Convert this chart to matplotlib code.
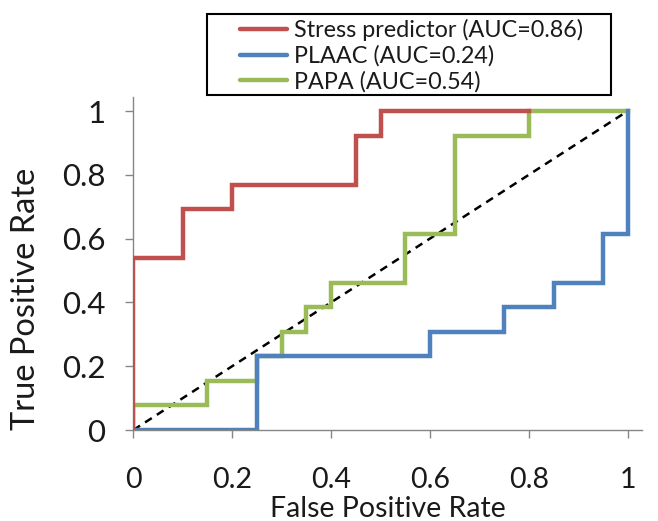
import matplotlib
matplotlib.use("Agg")
import matplotlib.pyplot as plt
from matplotlib.lines import Line2D
from matplotlib.patches import Rectangle

plt.rcParams['font.family'] = ['Lato', 'DejaVu Sans']

# Data
stress_fpr = [0, 0, 0.1, 0.1, 0.2, 0.2, 0.45, 0.45, 0.5, 0.5, 0.8]
stress_tpr = [0, 0.538, 0.538, 0.692, 0.692, 0.769, 0.769, 0.923, 0.923, 1.0, 1.0]

plaac_fpr = [0, 0.25, 0.25, 0.6, 0.6, 0.75, 0.75, 0.85, 0.85, 0.95, 0.95, 1.0, 1.0]
plaac_tpr = [0, 0, 0.231, 0.231, 0.308, 0.308, 0.385, 0.385, 0.462, 0.462, 0.615, 0.615, 1.0]

papa_fpr = [0, 0, 0.15, 0.15, 0.25, 0.25, 0.3, 0.3, 0.35, 0.35, 0.4, 0.4, 0.55, 0.55,
            0.65, 0.65, 0.8, 0.8, 1.0]
papa_tpr = [0, 0.077, 0.077, 0.154, 0.154, 0.231, 0.231, 0.308, 0.308, 0.385, 0.385,
            0.462, 0.462, 0.615, 0.615, 0.923, 0.923, 1.0, 1.0]

labels = ["Stress predictor (AUC=0.86)", "PLAAC (AUC=0.24)", "PAPA (AUC=0.54)"]
colors = ["#C0504D", "#4F81BD", "#9BBB59"]
ticks = [0, 0.2, 0.4, 0.6, 0.8, 1]
tick_labels = ["0", "0.2", "0.4", "0.6", "0.8", "1"]

W, H = 658, 521
fig = plt.figure(figsize=(W / 100, H / 100), dpi=100)
ax = fig.add_axes([133.3 / W, (H - 430) / H, (642 - 133.3) / W, (430 - 97) / H])

lw = 3.2
ax.plot([0, 1], [0, 1], color="black", linestyle=(0, (3.2, 2.4)), linewidth=1.8, zorder=2)
ax.plot(papa_fpr, papa_tpr, color=colors[2], linewidth=lw, solid_joinstyle="miter", zorder=3)
ax.plot(plaac_fpr, plaac_tpr, color=colors[1], linewidth=lw, solid_joinstyle="miter", zorder=3)
ax.plot(stress_fpr, stress_tpr, color=colors[0], linewidth=lw, solid_joinstyle="miter", zorder=4)

ax.set_xlim(0, (642 - 133.3) / 494.4)
ax.set_ylim(0, (430 - 97) / 319)
ax.set_xticks(ticks)
ax.set_xticklabels(tick_labels, fontsize=20.5)
ax.set_yticks(ticks)
ax.set_yticklabels(tick_labels, fontsize=22.5)
for s in ["top", "right"]:
    ax.spines[s].set_visible(False)
for s in ["left", "bottom"]:
    ax.spines[s].set_color("#868686")
    ax.spines[s].set_linewidth(1.0)
ax.tick_params(axis="both", direction="out", length=6, width=1.0, color="#868686",
               labelcolor="#1a1a1a")
ax.tick_params(axis="x", pad=20.5)
ax.tick_params(axis="y", pad=14)
ax.set_xlabel("False Positive Rate", fontsize=20.5, color="#1a1a1a", labelpad=2)
ax.set_ylabel("True Positive Rate", fontsize=23.4, color="#1a1a1a", labelpad=15.4)
ax.yaxis.label.set_y((430 - 299) / 333)

# Legend: entries without frame, box drawn separately
handles = [Line2D([0], [0], color=c, linewidth=lw, solid_capstyle="round") for c in colors]
leg = fig.legend(handles, labels, loc="upper left",
                 bbox_to_anchor=(235.3 / W, 1 - 14 / H),
                 fontsize=16.8, frameon=False,
                 handlelength=2.0, handletextpad=0.3, labelspacing=0.19,
                 borderpad=0.2, borderaxespad=0)
for t in leg.get_texts():
    t.set_color("#1a1a1a")
fig.patches.append(Rectangle((206.7 / W, 1 - 95 / H), (611 - 206.7) / W, (95 - 14) / H,
                             transform=fig.transFigure, fill=False,
                             edgecolor="black", linewidth=1.5))

fig.savefig("out.png", dpi=100)
